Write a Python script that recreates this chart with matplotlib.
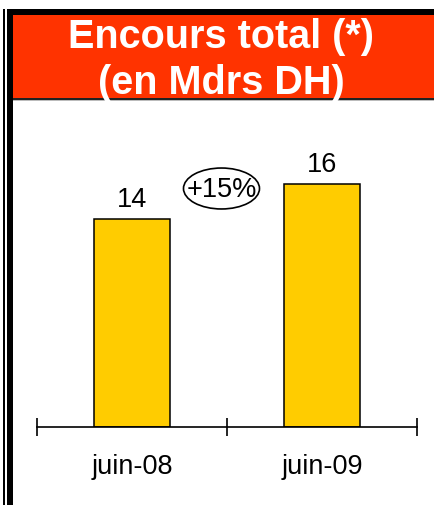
import matplotlib
matplotlib.use("Agg")
import matplotlib.pyplot as plt
from matplotlib.patches import Rectangle, Ellipse

# data
periods = ["juin-08", "juin-09"]
encours = [13.9, 16.2]
growth_label = "+15%"
title_lines = ["Encours total (*)", "(en Mdrs DH)"]

W, H = 434, 506
plt.rcParams['font.family'] = ['Liberation Sans', 'DejaVu Sans']

fig = plt.figure(figsize=(W / 100, H / 100), dpi=100)


def box(x, y, w, h, color):
    # pixel box measured from the top-left corner
    fig.add_artist(Rectangle((x / W, 1 - (y + h) / H), w / W, h / H,
                             transform=fig.transFigure, facecolor=color,
                             edgecolor='none', lw=0))


# frame and red header
box(3, 10, 2, H, 'black')
box(7, 10, 6, H, 'black')
box(7, 10, W, 6, 'black')
box(13, 16, W, 84, '#FF3300')
box(13, 99, W, 2, '#222222')
box(13, 101, W, 1, '#BBBBBB')

for line, base in zip(title_lines, [48, 94]):
    fig.text(221 / W, 1 - base / H, line, ha='center', va='baseline',
             color='white', fontsize=28.5, fontweight='bold')

ax = fig.add_axes([37 / W, (H - 428) / H, 380 / W, 300 / H])
ax.patch.set_alpha(0)
x = list(range(len(periods)))
bars = ax.bar(x, encours, width=0.4, color='#FFCC00', edgecolor='black',
              linewidth=1.1)
ax.bar_label(bars, labels=["%.0f" % v for v in encours], padding=5,
             fontsize=19.5)

ax.set_xlim(-0.5, 1.5)
ax.set_ylim(0, 20)
for s in ['top', 'right', 'left']:
    ax.spines[s].set_visible(False)
ax.spines['bottom'].set_linewidth(1.2)
ax.set_yticks([])
ax.set_xticks(x)
ax.set_xticklabels(periods, fontsize=19.5)
ax.tick_params(axis='x', which='major', length=0, pad=19)
ax.set_xticks([-0.5, 0.5, 1.5], minor=True)
ax.tick_params(axis='x', which='minor', direction='inout', length=13,
               width=1.2)

# growth bubble
ax.add_patch(Ellipse((0.471, 15.9), 0.4, 2.73, facecolor='white',
                     edgecolor='black', lw=1.2, clip_on=False))
ax.text(0.471, 15.85, growth_label, ha='center', va='center', fontsize=19.5)

fig.savefig("out.png", dpi=100)
